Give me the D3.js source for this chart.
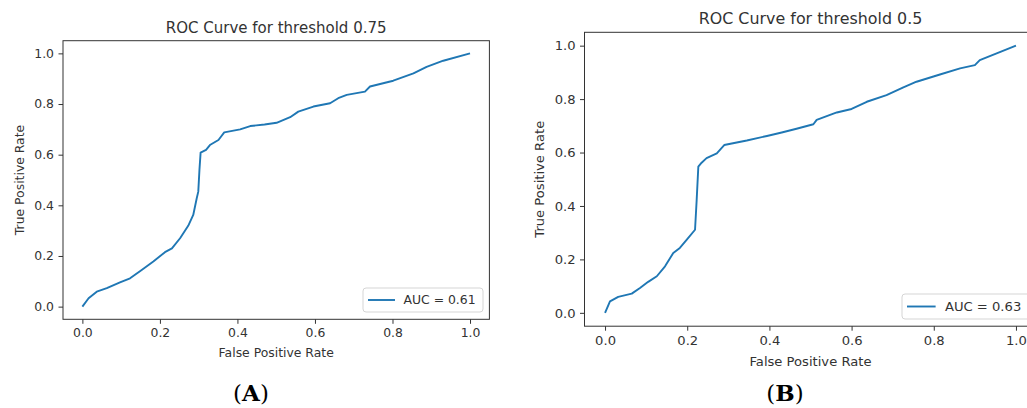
<!DOCTYPE html>
<html>
  <head>
    <title>ROC Curves</title>
    <script src="https://d3js.org/d3.v7.min.js"></script>
  </head>
  <style>
    body {
      margin: 0;
      background-color: #fff;
      font-family: 'DejaVu Sans', sans-serif;
    }
    text { fill: #333; }
  </style>
  <body>
    <svg></svg>
    <script>

      // threshold 0.75 curve (panel A)
      var fprA = [0, 0.016, 0.037, 0.063, 0.097, 0.123, 0.153, 0.183, 0.213, 0.231, 0.252, 0.273,
        0.286, 0.295, 0.299, 0.302, 0.305, 0.319, 0.329, 0.351, 0.366, 0.407, 0.433, 0.470,
        0.501, 0.536, 0.557, 0.596, 0.639, 0.660, 0.682, 0.729, 0.742, 0.802, 0.854, 0.888,
        0.931, 1.0];
      var tprA = [0, 0.033, 0.059, 0.073, 0.096, 0.112, 0.145, 0.178, 0.215, 0.230, 0.270, 0.319,
        0.362, 0.428, 0.454, 0.540, 0.608, 0.619, 0.638, 0.658, 0.688, 0.700, 0.713, 0.719,
        0.726, 0.748, 0.770, 0.790, 0.803, 0.823, 0.836, 0.849, 0.869, 0.892, 0.921, 0.947,
        0.971, 1.0];

      // threshold 0.5 curve (panel B)
      var fprB = [0, 0.012, 0.032, 0.065, 0.085, 0.105, 0.126, 0.146, 0.166, 0.182, 0.199, 0.219,
        0.223, 0.227, 0.235, 0.247, 0.272, 0.290, 0.345, 0.394, 0.430, 0.466, 0.507, 0.515,
        0.564, 0.600, 0.637, 0.685, 0.726, 0.758, 0.815, 0.864, 0.900, 0.912, 0.953, 1.0];
      var tprB = [0, 0.043, 0.060, 0.072, 0.093, 0.116, 0.137, 0.174, 0.224, 0.243, 0.274, 0.311,
        0.423, 0.547, 0.562, 0.579, 0.597, 0.628, 0.645, 0.662, 0.675, 0.689, 0.706, 0.722,
        0.750, 0.763, 0.790, 0.815, 0.844, 0.865, 0.892, 0.915, 0.927, 0.946, 0.971, 1.0];

      var ticks = [0, 0.2, 0.4, 0.6, 0.8, 1.0];
      var titles = ['ROC Curve for threshold 0.75', 'ROC Curve for threshold 0.5'];
      var aucLabels = ['AUC = 0.61', 'AUC = 0.63'];
      var captions = ['A', 'B'];

      var width = 1027;
      var height = 408;
      var blue = '#1f77b4';

      var svg = d3.select('svg')
        .attr('width', width)
        .attr('height', height);

      // axes boxes in pixels, k = font scale of the panel
      var panels = [
        { x0: 63, x1: 489.4, y0: 40.7, y1: 319.3, k: 1.0, fpr: fprA, tpr: tprA,
          legend: [363, 288, 120, 24], yLabelX: 20, captionX: 251 },
        { x0: 584.5, x1: 1036.5, y0: 32.3, y1: 326.2, k: 1.06, fpr: fprB, tpr: tprB,
          legend: [902, 294, 140, 25], yLabelX: 539, captionX: 785 }
      ];

      panels.forEach(function (p, i) {
        var x = d3.scaleLinear().domain([-0.05, 1.05]).range([p.x0, p.x1]);
        var y = d3.scaleLinear().domain([-0.05, 1.05]).range([p.y1, p.y0]);
        var fs = 12.4 * p.k;
        var g = svg.append('g');

        var line = d3.line()
          .x(function (d) { return x(d[0]); })
          .y(function (d) { return y(d[1]); });

        var pts = p.fpr.map(function (v, j) { return [v, p.tpr[j]]; });

        g.append('path')
          .datum(pts)
          .attr('d', line)
          .attr('fill', 'none')
          .attr('stroke', blue)
          .attr('stroke-width', 1.9)
          .attr('stroke-linejoin', 'round');

        // axes
        var xAxis = d3.axisBottom(x).tickValues(ticks).tickFormat(d3.format('.1f'))
          .tickSize(4.5).tickPadding(4.5);
        var yAxis = d3.axisLeft(y).tickValues(ticks).tickFormat(d3.format('.1f'))
          .tickSize(4.5).tickPadding(4.5);

        var gx = g.append('g')
          .attr('transform', 'translate(0,' + p.y1 + ')')
          .call(xAxis);
        var gy = g.append('g')
          .attr('transform', 'translate(' + p.x0 + ',0)')
          .call(yAxis);
        [gx, gy].forEach(function (a) {
          a.select('.domain').remove();
          a.selectAll('line').attr('stroke', '#333');
          a.selectAll('text').style('font-size', fs + 'px').attr('fill', '#333')
            .style('font-family', 'DejaVu Sans');
        });

        // frame
        g.append('rect')
          .attr('x', p.x0).attr('y', p.y0)
          .attr('width', p.x1 - p.x0).attr('height', p.y1 - p.y0)
          .attr('fill', 'none')
          .attr('stroke', '#333')
          .attr('stroke-width', 1);

        // legend
        var lg = p.legend;
        g.append('rect')
          .attr('x', lg[0]).attr('y', lg[1])
          .attr('width', lg[2]).attr('height', lg[3])
          .attr('rx', 3)
          .attr('fill', 'rgba(255,255,255,0.8)')
          .attr('stroke', '#d5d5d5');
        g.append('line')
          .attr('x1', lg[0] + 5).attr('x2', lg[0] + 5 + 27 * p.k)
          .attr('y1', lg[1] + lg[3] / 2).attr('y2', lg[1] + lg[3] / 2)
          .attr('stroke', blue).attr('stroke-width', 1.9);
        g.append('text')
          .attr('x', lg[0] + 40.5 * p.k).attr('y', lg[1] + lg[3] / 2)
          .attr('dy', '0.36em')
          .style('font-size', fs + 'px')
          .text(aucLabels[i]);

        // titles and labels
        var cx = (p.x0 + p.x1) / 2;
        g.append('text')
          .attr('x', cx).attr('y', p.y0 - 8 * p.k)
          .attr('text-anchor', 'middle')
          .style('font-size', (15 * p.k) + 'px')
          .text(titles[i]);

        g.append('text')
          .attr('x', cx).attr('y', p.y1 + 37.5 * p.k)
          .attr('text-anchor', 'middle')
          .style('font-size', fs + 'px')
          .text('False Positive Rate');

        g.append('text')
          .attr('transform', 'translate(' + p.yLabelX + ',' + ((p.y0 + p.y1) / 2) + ')rotate(-90)')
          .attr('text-anchor', 'middle')
          .attr('dy', '0.36em')
          .style('font-size', fs + 'px')
          .text('True Positive Rate');

        // (A) / (B) caption
        var cap = svg.append('text')
          .attr('x', p.captionX).attr('y', 401)
          .attr('text-anchor', 'middle')
          .style('font-family', 'DejaVu Serif, serif')
          .style('font-size', '23px')
          .style('fill', '#000');
        cap.append('tspan').text('(');
        cap.append('tspan').style('font-weight', 'bold').text(captions[i]);
        cap.append('tspan').text(')');
      });

    </script>
  </body>
</html>
